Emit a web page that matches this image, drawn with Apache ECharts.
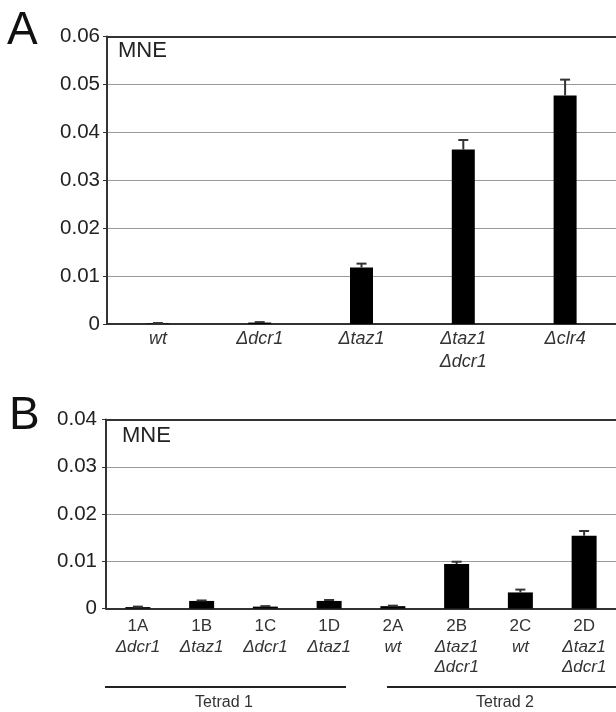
<!DOCTYPE html>
<html>
<head>
<meta charset="utf-8">
<script src="https://cdn.jsdelivr.net/npm/echarts@6/dist/echarts.min.js"></script>
<style>
  html, body { margin: 0; padding: 0; background: #fff; }
  #chart { width: 616px; height: 712px; }
</style>
</head>
<body>
<div id="chart"></div>
<script>
// panel A
const aStrains = ['wt', 'Δdcr1', 'Δtaz1', 'Δtaz1\nΔdcr1', 'Δclr4']
const aValues = [0.0001, 0.0003, 0.0118, 0.0364, 0.0477]
const aErrors = [0.0001, 0.0001, 0.0008, 0.0020, 0.0033]
const aTicks = [0, 0.01, 0.02, 0.03, 0.04, 0.05, 0.06]

// panel B
const bIds = ['1A', '1B', '1C', '1D', '2A', '2B', '2C', '2D']
const bStrains = ['Δdcr1', 'Δtaz1', 'Δdcr1', 'Δtaz1', 'wt', 'Δtaz1\nΔdcr1', 'wt', 'Δtaz1\nΔdcr1']
const bValues = [0.0003, 0.0016, 0.0004, 0.0016, 0.0005, 0.0094, 0.0034, 0.0154]
const bErrors = [0.0001, 0.0001, 0.0001, 0.0002, 0.0001, 0.0005, 0.0006, 0.0010]
const bTicks = [0, 0.01, 0.02, 0.03, 0.04]

const FONT = '"Liberation Sans", Arial, sans-serif'
const chart = echarts.init(document.getElementById('chart'))

function errRender(params, api) {
  const x = api.value(0)
  const lo = api.coord([x, api.value(1)])
  const hi = api.coord([x, api.value(2)])
  const style = { stroke: '#333', lineWidth: 2 }
  return {
    type: 'group',
    children: [
      { type: 'line', shape: { x1: lo[0], y1: lo[1], x2: hi[0], y2: hi[1] }, style },
      { type: 'line', shape: { x1: hi[0] - 5, y1: hi[1], x2: hi[0] + 5, y2: hi[1] }, style },
    ],
  }
}

function yAxis(gridIndex, ticks, margin) {
  return {
    type: 'value',
    gridIndex,
    min: ticks[0],
    max: ticks[ticks.length - 1],
    interval: ticks[1] - ticks[0],
    axisLine: { show: true, lineStyle: { color: '#333', width: 2 } },
    axisTick: { show: true, length: 4, lineStyle: { color: '#333' } },
    axisLabel: { color: '#222', fontSize: 20.5, fontFamily: FONT, margin },
    splitLine: { lineStyle: { color: '#999', width: 1 } },
  }
}

function topAxis(gridIndex, data) {
  return {
    type: 'category', gridIndex, position: 'top', data,
    axisLine: { lineStyle: { color: '#333', width: 2 } },
    axisTick: { show: false }, axisLabel: { show: false },
  }
}

chart.setOption({
  animation: false,
  grid: [
    { left: 107, right: -3, top: 36.5, bottom: 388 },
    { left: 106, right: 0, top: 419.5, bottom: 103.5 },
  ],
  xAxis: [
    {
      type: 'category', gridIndex: 0, data: aStrains,
      axisLine: { lineStyle: { color: '#333', width: 2 } },
      axisTick: { length: 3, lineStyle: { color: '#999' } },
      axisLabel: {
        color: '#333', fontSize: 18, fontStyle: 'italic', fontFamily: FONT,
        lineHeight: 23, margin: 3, interval: 0,
      },
    },
    {
      type: 'category', gridIndex: 1, data: bIds,
      axisLine: { lineStyle: { color: '#333', width: 2 } },
      axisTick: { length: 3, lineStyle: { color: '#999' } },
      axisLabel: {
        interval: 0, margin: 8,
        formatter: (val, i) => {
          const lines = bStrains[i].split('\n').map(s => '{i|' + s + '}')
          return ['{n|' + val + '}'].concat(lines).join('\n')
        },
        rich: {
          n: { color: '#333', fontSize: 17, fontFamily: FONT, lineHeight: 20.5 },
          i: { color: '#333', fontSize: 17, fontFamily: FONT, fontStyle: 'italic', lineHeight: 20.5 },
        },
      },
    },
    topAxis(0, aStrains),
    topAxis(1, bIds),
  ],
  yAxis: [yAxis(0, aTicks, 7), yAxis(1, bTicks, 9)],
  series: [
    {
      type: 'bar', xAxisIndex: 0, yAxisIndex: 0, barWidth: 23,
      itemStyle: { color: '#000' }, data: aValues,
    },
    {
      type: 'custom', xAxisIndex: 0, yAxisIndex: 0, renderItem: errRender,
      encode: { x: 0, y: [1, 2] }, z: 3,
      data: aValues.map((v, i) => [i, v, v + aErrors[i]]),
    },
    {
      type: 'bar', xAxisIndex: 1, yAxisIndex: 1, barWidth: 25,
      itemStyle: { color: '#000' }, data: bValues,
    },
    {
      type: 'custom', xAxisIndex: 1, yAxisIndex: 1, renderItem: errRender,
      encode: { x: 0, y: [1, 2] }, z: 3,
      data: bValues.map((v, i) => [i, v, v + bErrors[i]]),
    },
  ],
  graphic: [
    { type: 'text', left: 7, top: 8, style: { text: 'A', font: '46px ' + FONT, fill: '#111' } },
    { type: 'text', left: 9, top: 393, style: { text: 'B', font: '46px ' + FONT, fill: '#111' } },
    { type: 'text', left: 118, top: 40, style: { text: 'MNE', font: '22px ' + FONT, fill: '#222' } },
    { type: 'text', left: 122, top: 425, style: { text: 'MNE', font: '22px ' + FONT, fill: '#222' } },
    { type: 'line', shape: { x1: 105, y1: 687, x2: 346, y2: 687 }, style: { stroke: '#222', lineWidth: 2 } },
    { type: 'line', shape: { x1: 387, y1: 687, x2: 622, y2: 687 }, style: { stroke: '#222', lineWidth: 2 } },
    { type: 'text', x: 224, y: 703, style: { text: 'Tetrad 1', font: '16px ' + FONT, fill: '#333', align: 'center', verticalAlign: 'middle' } },
    { type: 'text', x: 505, y: 703, style: { text: 'Tetrad 2', font: '16px ' + FONT, fill: '#333', align: 'center', verticalAlign: 'middle' } },
  ],
})
</script>
</body>
</html>
